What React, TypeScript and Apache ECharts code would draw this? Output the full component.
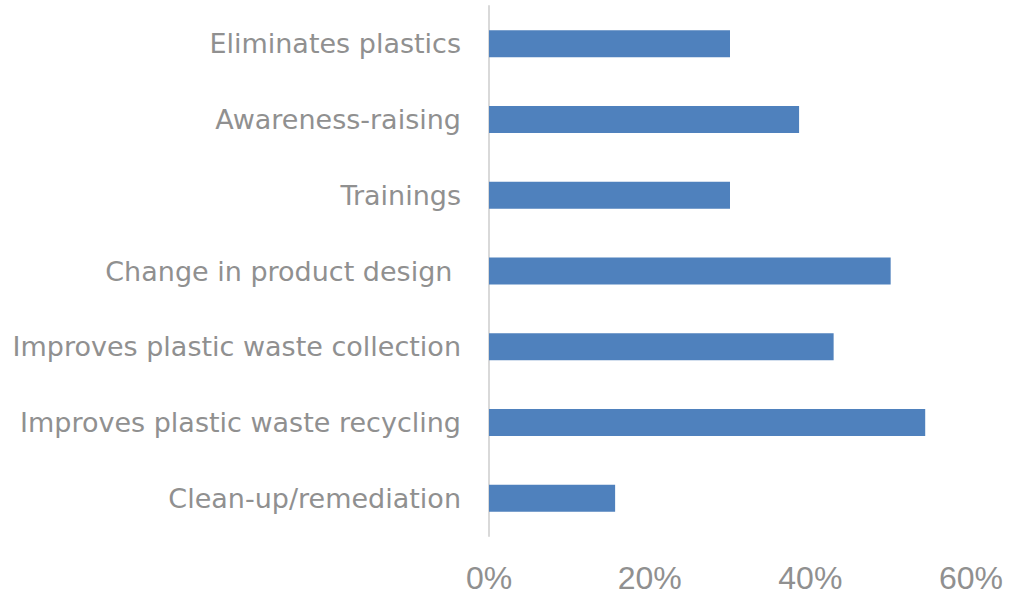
import React, { useEffect, useRef } from "react";
import * as echarts from "echarts";

const categories = [
  "Eliminates plastics",
  "Awareness-raising",
  "Trainings",
  "Change in product design ",
  "Improves plastic waste collection",
  "Improves plastic waste recycling",
  "Clean-up/remediation",
];
const values = [30.0, 38.6, 30.0, 50.0, 42.9, 54.3, 15.7];
const xTicks = [0, 20, 40, 60];

export default function App() {
  const ref = useRef<HTMLDivElement>(null);
  useEffect(() => {
    document.body.style.margin = "0";
    const chart = echarts.init(ref.current!, null, { renderer: "svg" });
    chart.setOption({
      animation: false,
      grid: { left: 489, right: 50, top: 6, bottom: 63, containLabel: false },
      xAxis: {
        type: "value",
        min: xTicks[0],
        max: xTicks[xTicks.length - 1],
        interval: 20,
        splitLine: { show: false },
        axisLine: { show: false },
        axisTick: { show: false },
        axisLabel: {
          formatter: (v: number) => `${v}%`,
          color: "#909090",
          fontSize: 32,
          fontFamily: "Liberation Sans, Arial, sans-serif",
          margin: 26,
        },
      },
      yAxis: {
        type: "category",
        data: categories,
        inverse: true,
        axisLine: { show: true, lineStyle: { color: "#d9d9d9", width: 2 } },
        axisTick: { show: false },
        axisLabel: {
          color: "#909090",
          fontSize: 27,
          fontFamily: "DejaVu Sans, sans-serif",
          margin: 28,
        },
      },
      series: [
        {
          type: "bar",
          data: values,
          barWidth: 27,
          itemStyle: { color: "#4f81bd" },
        },
      ],
    });
    return () => chart.dispose();
  }, []);
  return <div ref={ref} style={{ width: 1021, height: 599 }} />;
}
